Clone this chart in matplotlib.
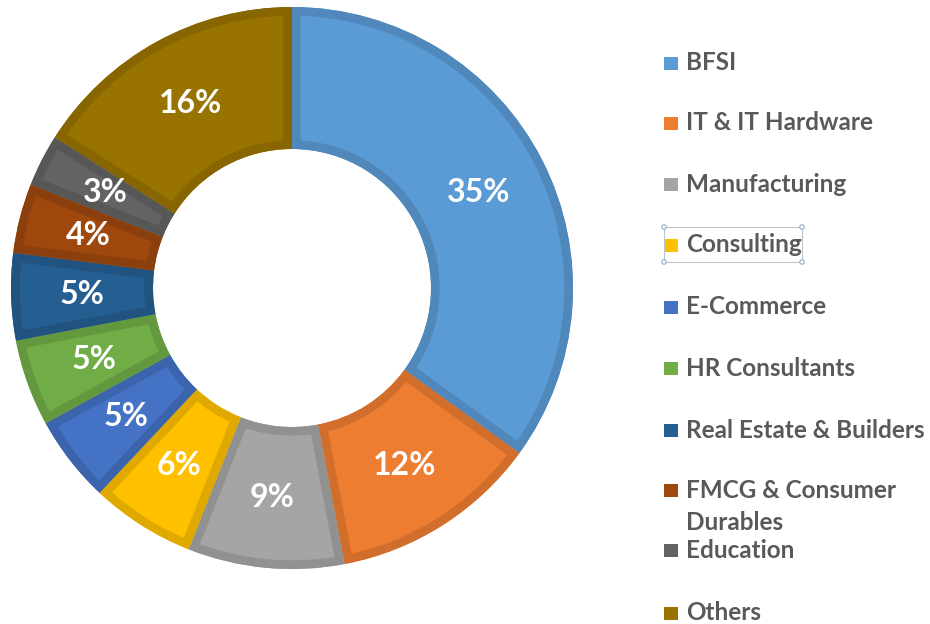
import matplotlib
matplotlib.use("Agg")
import matplotlib.pyplot as plt
from matplotlib.patches import Rectangle, Circle, Wedge
from matplotlib.transforms import TransformedPatchPath
import matplotlib.colors as mcolors

categories = ["BFSI", "IT & IT Hardware", "Manufacturing", "Consulting", "E-Commerce",
              "HR Consultants", "Real Estate & Builders", "FMCG & Consumer\nDurables",
              "Education", "Others"]
values = [35, 12, 9, 6, 5, 5, 5, 4, 3, 16]
colors = ["#5B9BD5", "#ED7D31", "#A5A5A5", "#FFC000", "#4472C4",
          "#70AD47", "#255E91", "#9E480E", "#636363", "#997300"]

W, H = 930, 624
fig = plt.figure(figsize=(W / 100, H / 100), dpi=100)
ax = fig.add_axes([0, 0, 1, 1])

cx, cy = 292, H - 288
R = 281
inner = 139

def darker(c, f=0.88):
    r, g, b = mcolors.to_rgb(c)
    return (r * f, g * f, b * f)

wedges, texts, autotexts = ax.pie(
    values, colors=colors, startangle=90, counterclock=False,
    center=(cx, cy), radius=R, frame=True,
    wedgeprops=dict(width=R - inner, linewidth=0),
    autopct=lambda p: f"{p:.0f}%", pctdistance=(R + inner) / 2 / R,
    textprops=dict(color="white", fontsize=23, fontweight="bold", family="Lato"))
ax.set_xlim(0, W)
ax.set_ylim(0, H)
ax.set_aspect("equal")
ax.axis("off")

for w, c in zip(wedges, colors):
    ew = Wedge(w.center, w.r, w.theta1, w.theta2, width=w.width,
               facecolor="none", edgecolor=darker(c), linewidth=12.5,
               joinstyle="miter", zorder=w.get_zorder() + 0.1)
    ax.add_patch(ew)
    ew.set_clip_path(TransformedPatchPath(w))
for t in autotexts:
    t.set_zorder(5)

# legend
rows_y = [63, 123, 184, 245, 307, 368, 430, 490, 550, 613]
for cat, c, y in zip(categories, colors, rows_y):
    yy = H - y
    ax.add_patch(Rectangle((664, yy - 6.5), 14, 13, facecolor=c, edgecolor="none"))
    lines = cat.split("\n")
    for i, ln in enumerate(lines):
        ax.text(686, yy - i * 32, ln, fontsize=17.5, fontweight="bold", family="Lato",
                color="#595959", va="center", ha="left")

# selection box around "Consulting" as in reference
bx0, by0, bx1, by1 = 664, H - 262, 802, H - 227
ax.add_patch(Rectangle((bx0, by0), bx1 - bx0, by1 - by0, facecolor="none",
                       edgecolor="#B8C4D0", linewidth=0.8))
for hx in (bx0, bx1):
    for hy in (by0, by1):
        ax.add_patch(Circle((hx, hy), 2.2, facecolor="white", edgecolor="#8FAACC", linewidth=0.8))

fig.savefig("out.png", dpi=100)
